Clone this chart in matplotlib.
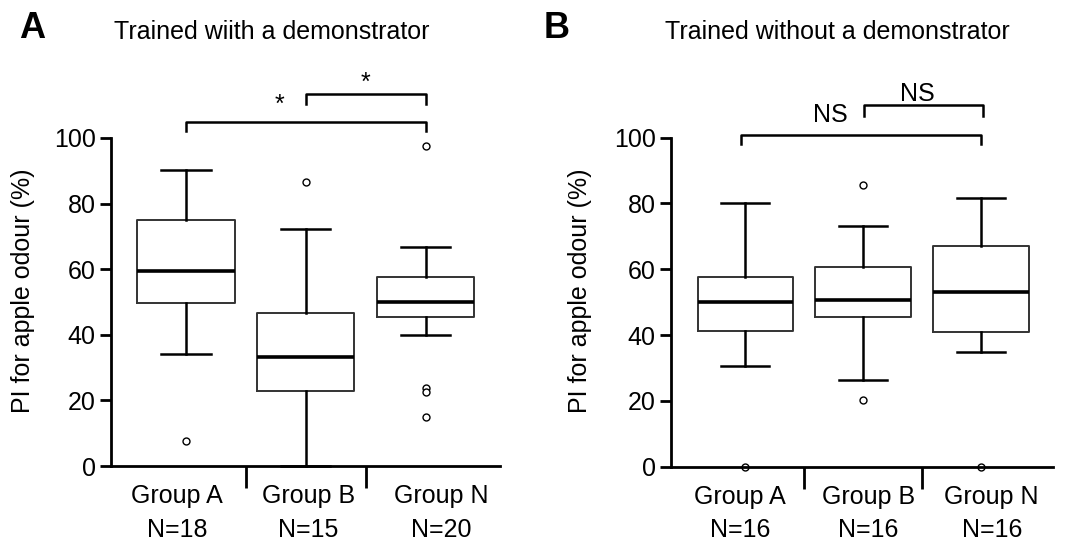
import matplotlib
matplotlib.use("Agg")
import matplotlib.pyplot as plt

plt.rcParams['font.family'] = ['Liberation Sans', 'DejaVu Sans']

groups = ["Group A", "Group B", "Group N"]
n_with = ["N=18", "N=15", "N=20"]
n_without = ["N=16", "N=16", "N=16"]

# [whislo, q1, median, q3, whishi]
with_stats = [
    [34.2, 49.7, 59.3, 74.9, 90.2],
    [0.0, 23.0, 33.2, 46.6, 72.3],
    [40.0, 45.5, 49.9, 57.5, 66.8],
]
with_fliers = [[7.7], [86.6], [97.7, 23.7, 22.7, 15.0]]

without_stats = [
    [30.5, 41.1, 50.1, 57.6, 80.1],
    [26.5, 45.4, 50.7, 60.6, 73.1],
    [34.8, 41.0, 53.2, 67.1, 81.6],
]
without_fliers = [[0.0], [85.6, 20.2], [0.0]]

titles = ["Trained wiith a demonstrator", "Trained without a demonstrator"]
panel_letters = ["A", "B"]
sig_with = ["*", "*"]
sig_without = ["NS", "NS"]
yticks = [0, 20, 40, 60, 80, 100]

FS = 18

fig = plt.figure(figsize=(10.78, 5.41), dpi=100)
axA = fig.add_axes([0.103, 0.1386, 0.361, 0.6064])
axB = fig.add_axes([0.6225, 0.1373, 0.3543, 0.6082])


def make_stats(stats, fliers):
    out = []
    for s, f in zip(stats, fliers):
        out.append(dict(whislo=s[0], q1=s[1], med=s[2], q3=s[3], whishi=s[4], fliers=f))
    return out


def draw_panel(ax, stats, fliers, nlabels, label_pos, xlim):
    ax.bxp(make_stats(stats, fliers), positions=[1, 2, 3], widths=0.81,
           capwidths=0.41, showfliers=True, patch_artist=False,
           boxprops=dict(color="#333333", linewidth=1.4),
           medianprops=dict(color="black", linewidth=2.6),
           whiskerprops=dict(color="black", linewidth=1.8),
           capprops=dict(color="black", linewidth=1.8),
           flierprops=dict(marker="o", markersize=5, markerfacecolor="white",
                           markeredgecolor="black", markeredgewidth=1.0))
    for art in ax.lines:
        art.set_clip_on(False)
    ax.set_xlim(*xlim)
    ax.set_ylim(0, 100)
    ax.set_yticks(yticks)
    ax.tick_params(axis="y", labelsize=FS, width=2, length=8, pad=3)
    ax.set_xticks(label_pos)
    ax.set_xticklabels([f"{g}\n{n}" for g, n in zip(groups, nlabels)],
                       fontsize=FS, linespacing=1.5)
    ax.tick_params(axis="x", which="major", length=0, pad=13)
    ax.set_xticks([1.5, 2.5], minor=True)
    ax.tick_params(axis="x", which="minor", length=16, width=2, direction="out")
    for side in ["top", "right"]:
        ax.spines[side].set_visible(False)
    ax.spines["left"].set_linewidth(2)
    ax.spines["bottom"].set_linewidth(2)
    ax.set_ylabel("PI for apple odour (%)", fontsize=FS)


draw_panel(axA, with_stats, with_fliers, n_with, [0.925, 2.02, 3.125], (0.375, 3.62))
draw_panel(axB, without_stats, without_fliers, n_without, [0.955, 2.045, 3.09], (0.37, 3.61))
axA.yaxis.set_label_coords(-0.195, 0.535)
axB.yaxis.set_label_coords(-0.208, 0.535)


def bracket(ax, x0, x1, y, drop, text, tx, ty, fs):
    ax.plot([x0, x0, x1, x1], [y - drop, y, y, y - drop], color="black",
            linewidth=1.8, clip_on=False)
    ax.text(tx, ty, text, ha="center", va="center", fontsize=fs, clip_on=False)


bracket(axA, 1, 3, 104.8, 2.8, sig_with[0], 1.78, 110.2, 18)
bracket(axA, 2, 3, 113.3, 2.8, sig_with[1], 2.5, 116.9, 18)
bracket(axB, 0.96, 3, 100.9, 2.9, sig_without[0], 1.72, 106.9, FS)
bracket(axB, 2.01, 3.02, 109.8, 3.3, sig_without[1], 2.46, 113.2, FS)

fig.text(272 / 1078, 1 - 32 / 541, titles[0], ha="center", va="center", fontsize=FS)
fig.text(837 / 1078, 1 - 32 / 541, titles[1], ha="center", va="center", fontsize=FS)
fig.text(32 / 1078, 1 - 29 / 541, panel_letters[0], ha="center", va="center",
         fontsize=26, fontweight="bold")
fig.text(557 / 1078, 1 - 29 / 541, panel_letters[1], ha="center", va="center",
         fontsize=26, fontweight="bold")

fig.savefig("out.png", dpi=100)
